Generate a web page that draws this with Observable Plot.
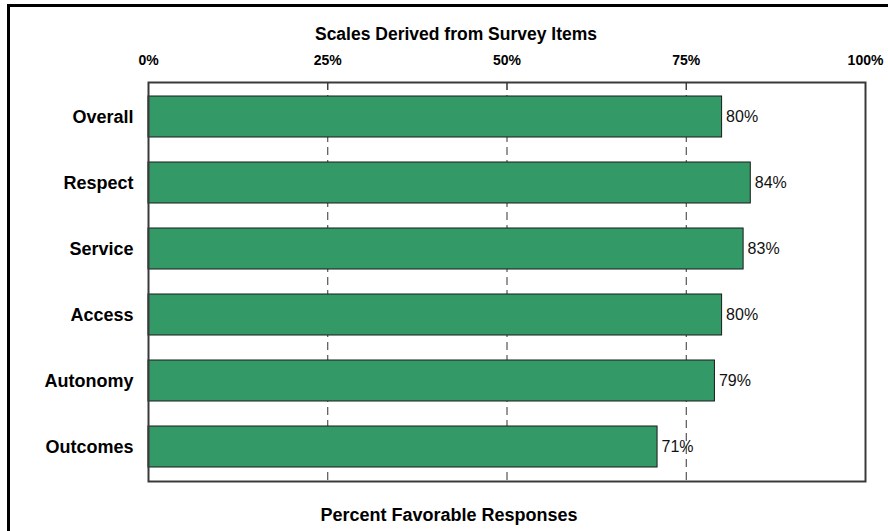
<!DOCTYPE html>
<html>
<head>
<meta charset="utf-8">
<script src="https://cdn.jsdelivr.net/npm/d3@7"></script>
<script src="https://cdn.jsdelivr.net/npm/@observablehq/plot@0.6"></script>
<style>
  html, body { margin: 0; padding: 0; background: #fff; overflow: hidden; }
  #wrap { position: relative; width: 888px; height: 531px; overflow: hidden; font-family: "Liberation Sans", Arial, sans-serif; }
  #outer { position: absolute; left: 7px; top: 4px; width: 1000px; height: 700px; border-left: 3px solid #000; border-top: 3px solid #000; box-sizing: border-box; pointer-events: none; }
  .lbl { position: absolute; white-space: nowrap; font-weight: bold; line-height: 1; color: #000; transform: translateX(-50%); }
  #chart { position: absolute; left: 0; top: 0; }
</style>
</head>
<body>
<div id="wrap">
  <div id="chart"></div>
  <div id="outer"></div>
  <div class="lbl" id="title" style="left:456px; top:26px; font-size:17.5px;"></div>
  <div class="lbl" id="xlabel" style="left:449px; top:505.5px; font-size:18px;"></div>
</div>
<script>
const titleText = "Scales Derived from Survey Items";
const xLabelText = "Percent Favorable Responses";
const categories = ["Overall", "Respect", "Service", "Access", "Autonomy", "Outcomes"];
const values = [80, 84, 83, 80, 79, 71];
const xTicks = [0, 25, 50, 75, 100];
const gridTicks = [25, 50, 75];

const data = categories.map((c, i) => ({cat: c, value: values[i]}));

document.getElementById("title").textContent = titleText;
document.getElementById("xlabel").textContent = xLabelText;

const chart = Plot.plot({
  width: 888,
  height: 531,
  marginLeft: 148,
  marginRight: 23,
  marginTop: 82,
  marginBottom: 50,
  style: {fontFamily: '"Liberation Sans", Arial, sans-serif', background: "transparent", overflow: "visible"},
  x: {domain: [0, 100]},
  y: {domain: categories, paddingInner: 0.377, paddingOuter: 0.1885},
  marks: [
    Plot.gridX(gridTicks, {stroke: "#333", strokeOpacity: 1, strokeWidth: 1, strokeDasharray: "8,5"}),
    Plot.barX(data, {x: "value", y: "cat", fill: "#339966", stroke: "#1a1a1a", strokeWidth: 1}),
    Plot.text(data, {x: "value", y: "cat", text: d => d.value + "%", textAnchor: "start", dx: 4, fontSize: 16, fill: "#111"}),
    Plot.frame({stroke: "#3a3a3a", strokeWidth: 2}),
    Plot.axisX(xTicks, {anchor: "top", tickSize: -7, tickPadding: 25, tickFormat: d => d + "%", fontSize: 14, fontWeight: "bold", fill: "#000", stroke: "#333", label: null}),
    Plot.axisY({anchor: "left", tickSize: 0, tickPadding: 15, fontSize: 18, fontWeight: "bold", fill: "#000", label: null})
  ]
});
document.getElementById("chart").appendChild(chart);
</script>
</body>
</html>
